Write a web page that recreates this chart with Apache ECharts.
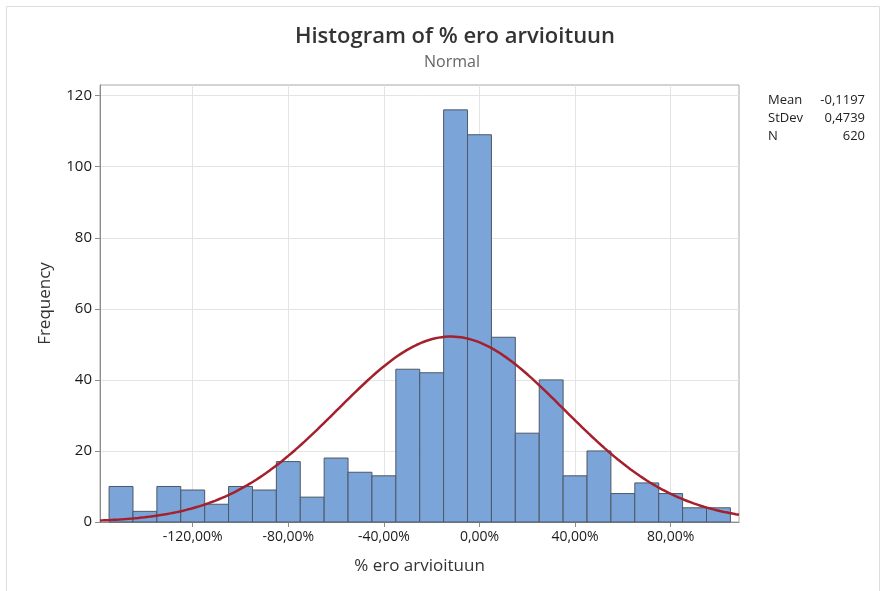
<!DOCTYPE html>
<html>
<head>
<meta charset="utf-8">
<script src="https://cdn.jsdelivr.net/npm/echarts@6/dist/echarts.min.js"></script>
<style>
    html, body { margin: 0; padding: 0; background: #fff; }
    #chart { width: 883px; height: 591px; }
</style>
</head>
<body>
<div id="chart"></div>
<script>
    // bin centres (%), bin width 10 %
    var binCenters = [-150, -140, -130, -120, -110, -100, -90, -80, -70, -60, -50, -40, -30,
        -20, -10, 0, 10, 20, 30, 40, 50, 60, 70, 80, 90, 100];
    var binCounts = [10, 3, 10, 9, 5, 10, 9, 17, 7, 18, 14, 13, 43,
        42, 116, 109, 52, 25, 40, 13, 20, 8, 11, 8, 4, 4];
    var binWidth = 10;
    var xTicks = [-120, -80, -40, 0, 40, 80];
    var yTicks = [0, 20, 40, 60, 80, 100, 120];

    // fitted normal from the stats box
    var fitMean = -0.1197;
    var fitStDev = 0.4739;
    var fitN = 620;

    var xMin = -158.8, xMax = 108.6;

    var bars = binCenters.map(function (c, i) {
        return [c - binWidth / 2, c + binWidth / 2, binCounts[i]];
    });

    var curve = [];
    var mu = fitMean * 100, sd = fitStDev * 100;
    for (var k = 0; k <= 200; k++) {
        var x = xMin + (xMax - xMin) * k / 200;
        var y = fitN * binWidth / (sd * Math.sqrt(2 * Math.PI)) *
            Math.exp(-0.5 * Math.pow((x - mu) / sd, 2));
        curve.push([x, y]);
    }

    var chart = echarts.init(document.getElementById('chart'));
    var font = '"Open Sans", "Noto Sans", sans-serif';

    var option = {
        animation: false,
        textStyle: {fontFamily: font},
        title: [
            {
                text: 'Histogram of % ero arvioituun',
                left: 450, top: 21, textAlign: 'center',
                textStyle: {fontSize: 22, fontWeight: 600, color: '#333', fontFamily: font}
            },
            {
                text: 'Normal',
                left: 447, top: 49, textAlign: 'center',
                textStyle: {fontSize: 16, fontWeight: 'normal', color: '#666', fontFamily: font}
            }
        ],
        grid: {left: 100, right: 144, top: 85, bottom: 69, show: true, borderColor: '#a8a8a8', borderWidth: 1},
        xAxis: {
            type: 'value',
            min: xMin,
            max: xMax,
            name: '% ero arvioituun',
            nameLocation: 'middle',
            nameGap: 36,
            nameTextStyle: {fontSize: 17, color: '#333'},
            axisLine: {onZero: false, lineStyle: {color: '#8c8c8c'}},
            axisTick: {show: true, customValues: xTicks, length: 5, lineStyle: {color: '#8c8c8c'}},
            axisLabel: {
                customValues: xTicks, fontSize: 14, fontWeight: 500, color: '#1a1a1a', margin: 8,
                formatter: function (v) {
                    return v.toFixed(2).replace('.', ',') + '%';
                }
            },
            splitLine: {show: true, lineStyle: {color: '#e4e4e4'}}
        },
        yAxis: {
            type: 'value',
            min: 0,
            max: 123,
            interval: 20,
            name: 'Frequency',
            nameLocation: 'middle',
            nameGap: 46,
            nameTextStyle: {fontSize: 17, color: '#333'},
            axisLine: {show: true, onZero: false, lineStyle: {color: '#8c8c8c'}},
            axisTick: {show: true, customValues: yTicks, length: 5, lineStyle: {color: '#8c8c8c'}},
            axisLabel: {customValues: yTicks, fontSize: 15, fontWeight: 500, color: '#1a1a1a', margin: 8},
            splitLine: {show: true, lineStyle: {color: '#e4e4e4'}}
        },
        series: [
            {
                type: 'custom',
                data: bars,
                renderItem: function (params, api) {
                    var p0 = api.coord([api.value(0), api.value(2)]);
                    var p1 = api.coord([api.value(1), 0]);
                    return {
                        type: 'rect',
                        shape: {x: p0[0], y: p0[1], width: p1[0] - p0[0], height: p1[1] - p0[1]},
                        style: {fill: '#7BA5D9', stroke: '#4d5866', lineWidth: 1}
                    };
                },
                encode: {x: [0, 1], y: 2},
                z: 2
            },
            {
                type: 'line',
                data: curve,
                showSymbol: false,
                smooth: false,
                clip: true,
                lineStyle: {color: '#A3202C', width: 2.5},
                z: 3
            }
        ],
        graphic: [
            {
                type: 'rect',
                shape: {x: 6.5, y: 6.5, width: 873, height: 600},
                style: {fill: 'none', stroke: '#dcdcdc', lineWidth: 1},
                silent: true
            },
            {type: 'text', left: 768, top: 94, style: {text: 'Mean', fontSize: 13, fill: '#222', fontFamily: font}},
            {type: 'text', left: 768, top: 112, style: {text: 'StDev', fontSize: 13, fill: '#222', fontFamily: font}},
            {type: 'text', left: 768, top: 130, style: {text: 'N', fontSize: 13, fill: '#222', fontFamily: font}},
            {type: 'text', right: 18, top: 94, style: {text: fitMean.toFixed(4).replace('.', ','), fontSize: 13, fill: '#222', fontFamily: font}},
            {type: 'text', right: 18, top: 112, style: {text: fitStDev.toFixed(4).replace('.', ','), fontSize: 13, fill: '#222', fontFamily: font}},
            {type: 'text', right: 18, top: 130, style: {text: String(fitN), fontSize: 13, fill: '#222', fontFamily: font}}
        ]
    };
    chart.setOption(option);
</script>
</body>
</html>
